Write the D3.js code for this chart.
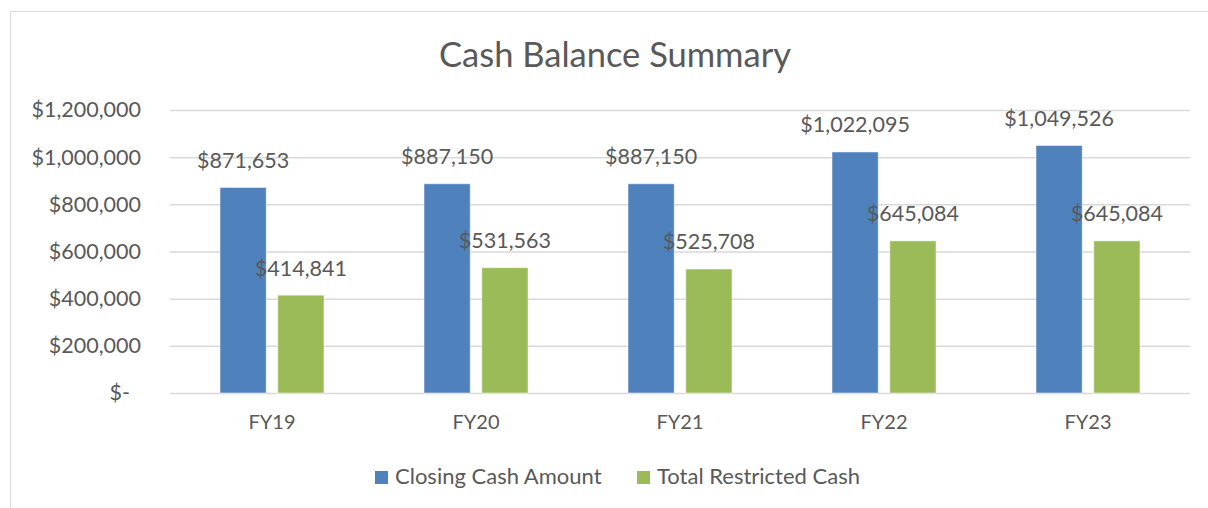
<!DOCTYPE html>
<html>
<head>
<meta charset="utf-8">
<script src="https://cdn.jsdelivr.net/npm/d3@7"></script>
<style>
  body { margin: 0; background: #fff; }
  svg text { font-family: Lato, "Noto Sans", sans-serif; fill: #595959; }
</style>
</head>
<body>
<svg id="chart" width="1208" height="508"></svg>
<script>
// chart data
const categories = ["FY19", "FY20", "FY21", "FY22", "FY23"];
const closingCash = [871653, 887150, 887150, 1022095, 1049526];
const restrictedCash = [414841, 531563, 525708, 645084, 645084];
const seriesNames = ["Closing Cash Amount", "Total Restricted Cash"];
const seriesColors = ["#4F81BD", "#9BBB59"];
const tickValues = [0, 200000, 400000, 600000, 800000, 1000000, 1200000];
const tickLabels = ["$-\u00a0\u00a0", "$200,000", "$400,000", "$600,000", "$800,000", "$1,000,000", "$1,200,000"];

const width = 1208, height = 508;
const margin = { top: 110, right: 18, bottom: 115, left: 170 };

const svg = d3.select("#chart");

// outer chart frame
svg.append("rect")
  .attr("x", 10.5).attr("y", 11.5)
  .attr("width", 1230).attr("height", 520)
  .attr("fill", "none").attr("stroke", "#d9d9d9");

const xScale = d3.scaleBand()
  .domain(categories)
  .range([margin.left, width - margin.right]);

const xInner = d3.scaleBand()
  .domain(seriesNames)
  .range([0, 104])
  .paddingInner(0.2);

const yScale = d3.scaleLinear()
  .domain([0, 1200000])
  .range([height - margin.bottom, margin.top]);

// gridlines + y labels
const yAxis = (g) =>
  g.call(
      d3.axisLeft(yScale)
        .tickValues(tickValues)
        .tickSize(-(width - margin.left - margin.right))
        .tickPadding(29)
        .tickFormat((d, i) => tickLabels[i])
    )
    .call((g) => g.select(".domain").remove())
    .call((g) => g.selectAll(".tick line").attr("stroke", "#d9d9d9").attr("stroke-width", 1.5))
    .call((g) => g.selectAll(".tick text").attr("font-size", 21.5).attr("fill", "#595959").style("white-space", "pre"));

svg.append("g")
  .attr("transform", `translate(${margin.left}, 0)`)
  .call(yAxis);

// x labels
const xAxis = (g) =>
  g.call(d3.axisBottom(xScale).tickSize(0).tickPadding(22))
    .call((g) => g.select(".domain").remove())
    .call((g) => g.selectAll(".tick text").attr("font-size", 20).attr("fill", "#595959"));

svg.append("g")
  .attr("transform", `translate(0, ${height - margin.bottom})`)
  .call(xAxis);

const rows = categories.map((c, i) => ({
  cat: c,
  values: [
    { name: seriesNames[0], value: closingCash[i], color: seriesColors[0] },
    { name: seriesNames[1], value: restrictedCash[i], color: seriesColors[1] }
  ]
}));

const groups = svg.selectAll("g.group")
  .data(rows)
  .join("g")
  .attr("class", "group")
  .attr("transform", (d) => `translate(${xScale(d.cat) + (xScale.bandwidth() - 104) / 2}, 0)`);

groups.selectAll("rect")
  .data((d) => d.values)
  .join("rect")
  .attr("x", (d) => xInner(d.name))
  .attr("width", xInner.bandwidth())
  .attr("y", (d) => yScale(d.value))
  .attr("height", (d) => yScale(0) - yScale(d.value))
  .attr("fill", (d) => d.color)
  .attr("stroke", "#ffffff")
  .attr("stroke-opacity", 0.5)
  .attr("stroke-width", 1);

const fmt = d3.format("$,");
groups.selectAll("text.val")
  .data((d) => d.values)
  .join("text")
  .attr("class", "val")
  .attr("x", (d) => xInner(d.name) + xInner.bandwidth() / 2)
  .attr("y", (d) => yScale(d.value) - 25)
  .attr("text-anchor", "middle")
  .attr("dominant-baseline", "middle")
  .attr("font-size", 21.5)
  .text((d) => fmt(d.value));

// title
svg.append("text")
  .attr("x", 615).attr("y", 67)
  .attr("text-anchor", "middle")
  .attr("font-size", 34.5)
  .text("Cash Balance Summary");

// legend
const legendX = [375, 637];
const legend = svg.selectAll("g.legend")
  .data(seriesNames)
  .join("g")
  .attr("class", "legend")
  .attr("transform", (d, i) => `translate(${legendX[i]}, 471)`);

legend.append("rect")
  .attr("width", 13).attr("height", 13)
  .attr("fill", (d, i) => seriesColors[i]);

legend.append("text")
  .attr("x", 20).attr("y", 7)
  .attr("dominant-baseline", "middle")
  .attr("font-size", 22)
  .text((d) => d);
</script>
</body>
</html>
